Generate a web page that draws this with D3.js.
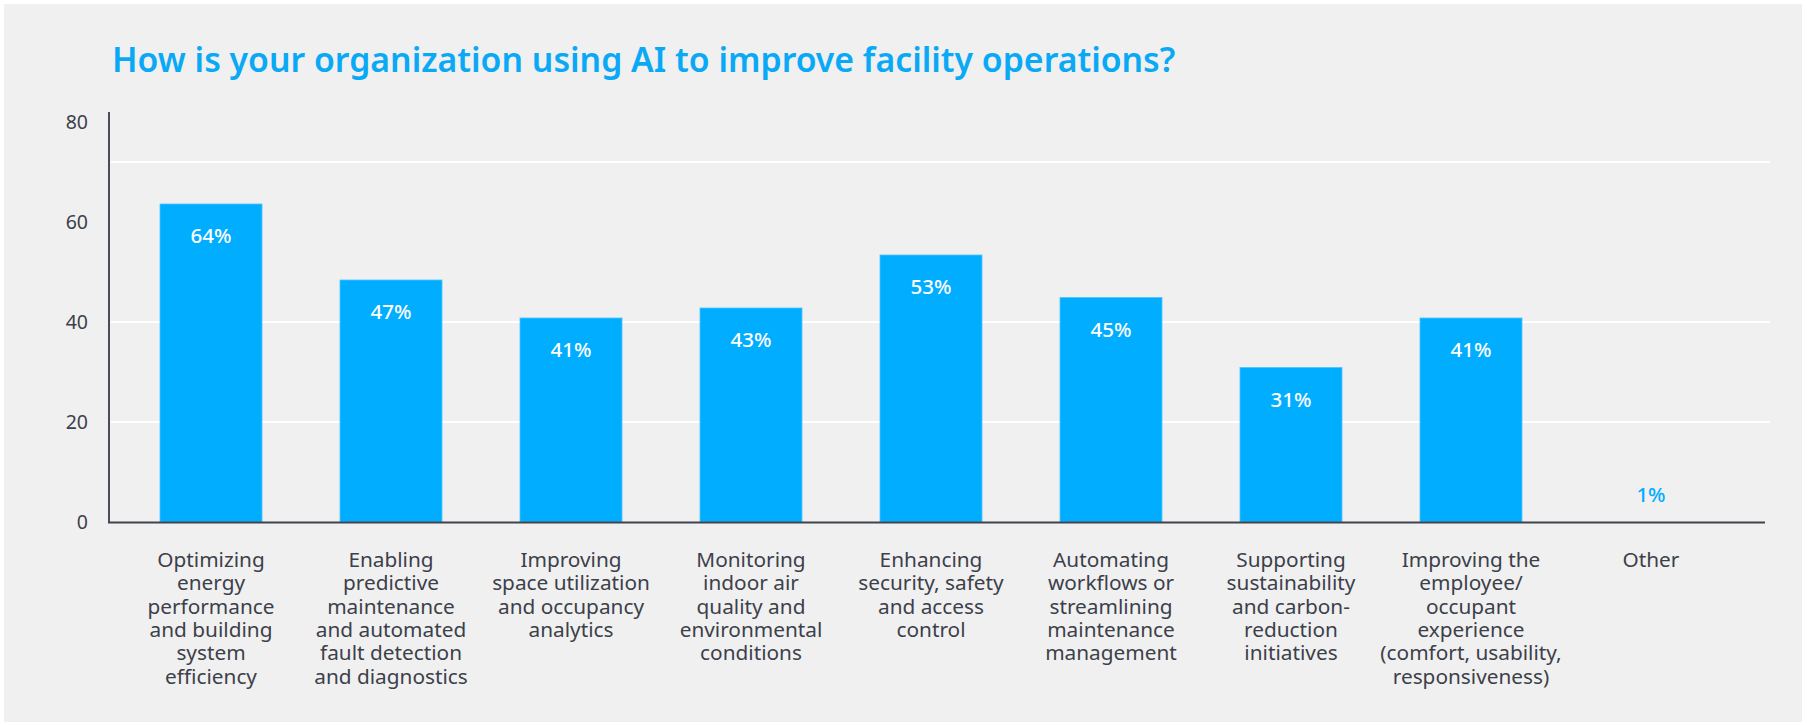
<!DOCTYPE html>
<html>
<head>
<meta charset="utf-8">
<script src="https://cdn.jsdelivr.net/npm/d3@7"></script>
<style>
  html, body { margin: 0; padding: 0; background: #fff; }
  svg { display: block; }
</style>
</head>
<body>
<div id="drawArea"></div>
<script>
// chart data
var categories = [
  ["Optimizing", "energy", "performance", "and building", "system", "efficiency"],
  ["Enabling", "predictive", "maintenance", "and automated", "fault detection", "and diagnostics"],
  ["Improving", "space utilization", "and occupancy", "analytics"],
  ["Monitoring", "indoor air", "quality and", "environmental", "conditions"],
  ["Enhancing", "security, safety", "and access", "control"],
  ["Automating", "workflows or", "streamlining", "maintenance", "management"],
  ["Supporting", "sustainability", "and carbon-", "reduction", "initiatives"],
  ["Improving the", "employee/", "occupant", "experience", "(comfort, usability,", "responsiveness)"],
  ["Other"]
];
var values = [63.6, 48.4, 40.8, 42.8, 53.4, 44.9, 30.9, 40.8, 0];
var valueLabels = ["64%", "47%", "41%", "43%", "53%", "45%", "31%", "41%", "1%"];
var yTicks = [0, 20, 40, 60, 80];
var gridValues = [20, 40, 72];
var title = "How is your organization using AI to improve facility operations?";

var W = 1807, H = 725;
var blue = "#00adff";
var textCol = "#3c404a";
var fontFam = "'Noto Sans', 'Open Sans', sans-serif";

var svg = d3.select("#drawArea").append("svg")
  .attr("width", W).attr("height", H);

// panel
svg.append("rect")
  .attr("x", 4).attr("y", 4)
  .attr("width", 1798).attr("height", 718)
  .attr("fill", "#f0f0f0");

svg.append("text")
  .attr("x", 112).attr("y", 72)
  .attr("font-family", fontFam)
  .attr("font-weight", 600)
  .attr("font-size", 33.8)
  .attr("fill", "#0aa9f5")
  .text(title);

var x = d3.scaleBand()
  .domain(d3.range(categories.length))
  .range([121, 1741])
  .paddingInner(0.4333)
  .paddingOuter(0.2167);

var y = d3.scaleLinear()
  .domain([0, 80])
  .range([522, 122]);

// gridlines
svg.selectAll("line.grid")
  .data(gridValues)
  .enter()
  .append("line")
  .classed("grid", true)
  .attr("x1", 111).attr("x2", 1770)
  .attr("y1", function(d) { return y(d); })
  .attr("y2", function(d) { return y(d); })
  .attr("stroke", "#ffffff")
  .attr("stroke-width", 2);

// bars
svg.selectAll("rect.bar")
  .data(values)
  .enter()
  .append("rect")
  .classed("bar", true)
  .attr("x", function(d, i) { return x(i); })
  .attr("y", function(d) { return y(d); })
  .attr("width", x.bandwidth())
  .attr("height", function(d) { return y(0) - y(d); })
  .attr("fill", blue)
  .attr("stroke", "#4cc4ff")
  .attr("stroke-width", function(d) { return d > 0 ? 0.8 : 0; });

// value labels
svg.selectAll("text.val")
  .data(values)
  .enter()
  .append("text")
  .classed("val", true)
  .attr("x", function(d, i) { return x(i) + x.bandwidth() / 2; })
  .attr("y", function(d) { return d > 5 ? y(d) + 39 : y(d) - 20; })
  .attr("text-anchor", "middle")
  .attr("font-family", fontFam)
  .attr("font-weight", 500)
  .attr("font-size", 20.5)
  .attr("fill", function(d) { return d > 5 ? "#ffffff" : blue; })
  .text(function(d, i) { return valueLabels[i]; });

// y axis
var yAxis = d3.axisLeft(y).tickValues(yTicks).tickSize(0).tickPadding(20);
var gy = svg.append("g").attr("transform", "translate(109,0)").call(yAxis);
gy.select(".domain").remove();
gy.selectAll("text")
  .attr("font-family", fontFam)
  .attr("font-size", 19.5)
  .attr("fill", textCol)
  .attr("x", -21)
  .attr("dy", "0.35em");

svg.append("line")
  .attr("x1", 109).attr("x2", 109)
  .attr("y1", 112).attr("y2", 523)
  .attr("stroke", "#4a4e57")
  .attr("stroke-width", 2);

svg.append("line")
  .attr("x1", 108).attr("x2", 1765)
  .attr("y1", 522.5).attr("y2", 522.5)
  .attr("stroke", "#3f434c")
  .attr("stroke-width", 2);

// category labels
var cat = svg.selectAll("text.cat")
  .data(categories)
  .enter()
  .append("text")
  .classed("cat", true)
  .attr("text-anchor", "middle")
  .attr("font-family", fontFam)
  .attr("font-size", 20.8)
  .attr("fill", textCol);

cat.selectAll("tspan")
  .data(function(d, i) { return d.map(function(l) { return { line: l, i: i }; }); })
  .enter()
  .append("tspan")
  .attr("x", function(d) { return x(d.i) + x.bandwidth() / 2; })
  .attr("y", function(d, j) { return 567 + j * 23.3; })
  .text(function(d) { return d.line; });
</script>
</body>
</html>
